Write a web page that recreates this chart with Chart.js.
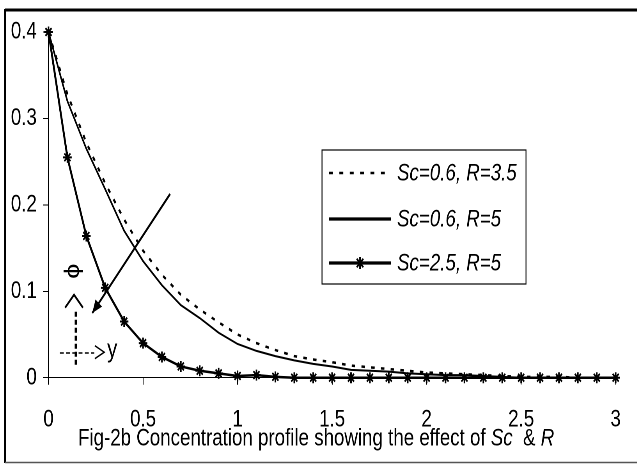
<!DOCTYPE html>
<html lang="en">
<head>
<meta charset="utf-8">
<title>Fig-2b Concentration profile</title>
<script src="https://cdn.jsdelivr.net/npm/chart.js@4.4.0/dist/chart.umd.min.js"></script>
<style>
html, body { margin: 0; padding: 0; background: #fff; overflow: hidden; }
/* the whole figure is squeezed sideways to get the narrow lettering */
#wrap { position: absolute; left: 0; top: 0; width: 817px; height: 464px; transform: scaleX(0.78); transform-origin: 0 0; }
</style>
</head>
<body>
<div id="wrap"><canvas id="chart"></canvas></div>
<script>
const SX = 0.78;
const W = 817;
const FONT = "'Liberation Sans', Arial, sans-serif";

// y (similarity variable) and concentration phi for the three cases
const etaValues = [0, 0.1, 0.2, 0.3, 0.4, 0.5, 0.6, 0.7, 0.8, 0.9, 1.0, 1.1, 1.2, 1.3, 1.4, 1.5,
  1.6, 1.7, 1.8, 1.9, 2.0, 2.1, 2.2, 2.3, 2.4, 2.5, 2.6, 2.7, 2.8, 2.9, 3.0];
const phiSc06R35 = [0.400, 0.328, 0.272, 0.225, 0.183, 0.147, 0.119, 0.096, 0.079, 0.064, 0.050,
  0.040, 0.032, 0.025, 0.021, 0.018, 0.014, 0.012, 0.010, 0.008, 0.006, 0.005, 0.004, 0.003,
  0.002, 0.001, 0.001, 0.001, 0.000, 0.000, 0.000];
const phiSc06R5 = [0.400, 0.320, 0.265, 0.218, 0.170, 0.135, 0.107, 0.084, 0.069, 0.052, 0.039,
  0.031, 0.025, 0.020, 0.016, 0.013, 0.009, 0.008, 0.007, 0.005, 0.004, 0.003, 0.003, 0.002,
  0.001, 0.000, 0.000, 0.000, 0.000, 0.000, 0.000];
const phiSc25R5 = [0.400, 0.255, 0.164, 0.104, 0.065, 0.040, 0.024, 0.013, 0.008, 0.005, 0.002,
  0.003, 0.001, 0.000, 0.000, 0.000, 0.000, 0.000, 0.000, 0.000, 0.000, 0.000, 0.000, 0.000,
  0.000, 0.000, 0.000, 0.000, 0.000, 0.000, 0.000];

const seriesLabels = ['Sc=0.6, R=3.5', 'Sc=0.6, R=5', 'Sc=2.5, R=5'];
const xTickLabels = ['0', '0.5', '1', '1.5', '2', '2.5', '3'];
const yTickLabels = ['0', '0.1', '0.2', '0.3', '0.4'];
// caption pieces, odd entries are set in italics
const captionParts = ['Fig-2b Concentration profile showing the effect of ', 'Sc', '  & ', 'R'];

function toPoints(ys) {
  return etaValues.map((x, i) => ({x: x, y: ys[i]}));
}

function drawStar(ctx, x, y, r) {
  const d = r * Math.SQRT1_2;
  ctx.beginPath();
  ctx.moveTo(x, y - r); ctx.lineTo(x, y + r);
  ctx.moveTo(x - r, y); ctx.lineTo(x + r, y);
  ctx.moveTo(x - d, y - d); ctx.lineTo(x + d, y + d);
  ctx.moveTo(x - d, y + d); ctx.lineTo(x + d, y - d);
  ctx.stroke();
}

function line(ctx, pts, width, dash) {
  ctx.lineWidth = width;
  ctx.setLineDash(dash || []);
  ctx.beginPath();
  ctx.moveTo(pts[0][0], pts[0][1]);
  for (let i = 1; i < pts.length; i++) ctx.lineTo(pts[i][0], pts[i][1]);
  ctx.stroke();
  ctx.setLineDash([]);
}

const figureDecor = {
  id: 'figureDecor',
  beforeDraw(chart) {
    const ctx = chart.ctx;
    ctx.save();
    ctx.fillStyle = '#fff';
    ctx.fillRect(0, 0, chart.width, chart.height);
    ctx.strokeStyle = '#000';
    const left = 5 / SX;
    line(ctx, [[left, 10], [chart.width, 10]], 3);
    line(ctx, [[left, 9], [left, 463]], 2.6);
    ctx.strokeStyle = '#555';
    line(ctx, [[left, 462.5], [chart.width, 462.5]], 1.5);
    ctx.restore();
  },
  afterDraw(chart) {
    const ctx = chart.ctx;
    const xs = chart.scales.x, ys = chart.scales.y;
    const P = (a, b) => [xs.getPixelForValue(a), ys.getPixelForValue(b)];
    ctx.save();
    ctx.strokeStyle = '#000';
    ctx.fillStyle = '#000';

    // legend box
    const lg = {l: 322 / SX, t: 150, r: 526 / SX, b: 284};
    ctx.lineWidth = 1.2;
    ctx.strokeRect(lg.l, lg.t, lg.r - lg.l, lg.b - lg.t);
    const rows = [173, 219, 263];
    const x0 = 329 / SX, x1 = 391 / SX, tx = 397 / SX;
    ctx.font = 'italic 24px ' + FONT;
    ctx.textBaseline = 'middle';
    chart.data.datasets.forEach((ds, i) => {
      const y = rows[i];
      line(ctx, [[x0, y], [x1, y]], i === 0 ? 2.5 : 3.2, i === 0 ? [5, 8.3] : []);
      if (ds.pointStyle === 'star') {
        ctx.lineWidth = 2;
        drawStar(ctx, (x0 + x1) / 2, y, 6);
      }
      ctx.fillText(ds.label, tx, y + 1);
    });

    // arrow across the curves
    const a0 = P(0.643, 0.2125), a1 = P(0.2315, 0.0748);
    line(ctx, [a0, a1], 2.3);
    const ang = Math.atan2(a1[1] - a0[1], a1[0] - a0[0]);
    const hl = 13, hw = 5.5;
    ctx.beginPath();
    ctx.moveTo(a1[0], a1[1]);
    ctx.lineTo(a1[0] - hl * Math.cos(ang) + hw * Math.sin(ang), a1[1] - hl * Math.sin(ang) - hw * Math.cos(ang));
    ctx.lineTo(a1[0] - hl * Math.cos(ang) - hw * Math.sin(ang), a1[1] - hl * Math.sin(ang) + hw * Math.cos(ang));
    ctx.closePath();
    ctx.fill();

    // phi / y axis sketch in the corner
    const ph = P(0.133, 0.1233);
    ctx.save();
    ctx.translate(ph[0], ph[1]);
    ctx.rotate(Math.PI / 2);
    ctx.font = '27px ' + FONT;
    ctx.textAlign = 'center';
    ctx.textBaseline = 'middle';
    ctx.fillText('\u03d5', 0, 0);
    ctx.restore();
    line(ctx, [P(0.088, 0.0810), P(0.135, 0.0960), P(0.182, 0.0810)], 2.2);
    line(ctx, [P(0.145, 0.0763), P(0.145, 0.0127)], 3.2, [5, 3]);
    line(ctx, [P(0.06, 0.0286), P(0.242, 0.0286)], 1.5, [5, 3]);
    line(ctx, [P(0.245, 0.037), P(0.295, 0.0295), P(0.245, 0.022)], 1.5);
    ctx.font = '26px ' + FONT;
    ctx.textBaseline = 'alphabetic';
    const yl = P(0.31, 0.024);
    ctx.fillText('y', yl[0], yl[1]);

    // caption under the axis
    let cx = 78 / SX;
    captionParts.forEach((s, i) => {
      ctx.font = (i % 2 ? 'italic ' : '') + '24px ' + FONT;
      ctx.fillText(s, cx, 445.5);
      cx += ctx.measureText(s).width;
    });
    ctx.restore();
  }
};

const data = {
  datasets: [{
    label: seriesLabels[0],
    data: toPoints(phiSc06R35),
    borderColor: '#000',
    borderWidth: 2.5,
    borderDash: [4.5, 8],
    pointRadius: 0
  }, {
    label: seriesLabels[1],
    data: toPoints(phiSc06R5),
    borderColor: '#000',
    borderWidth: 2,
    pointRadius: 0
  }, {
    label: seriesLabels[2],
    data: toPoints(phiSc25R5),
    borderColor: '#000',
    borderWidth: 2.5,
    pointStyle: 'star',
    pointRadius: 5.5,
    pointBorderWidth: 2,
    pointBorderColor: '#000'
  }]
};

const axisFont = {family: FONT, size: 24};

const config = {
  type: 'line',
  data: data,
  options: {
    responsive: true,
    maintainAspectRatio: false,
    devicePixelRatio: 2,
    animation: false,
    clip: false,
    layout: { padding: {left: 0, top: 32, right: W - 625 / SX, bottom: 0} },
    elements: { line: { tension: 0, fill: false } },
    plugins: { legend: { display: false }, tooltip: { enabled: false } },
    scales: {
      x: {
        type: 'linear',
        min: 0,
        max: 3,
        ticks: {
          stepSize: 0.5,
          maxRotation: 0,
          autoSkip: false,
          padding: 21,
          color: '#000',
          font: axisFont,
          callback: v => xTickLabels[Math.round(v / 0.5)]
        },
        grid: { drawOnChartArea: false, drawTicks: true, tickLength: 7, tickColor: '#000' },
        border: { display: true, color: '#000', width: 1 },
        afterFit: s => { s.height = 464 - 377.7; }
      },
      y: {
        type: 'linear',
        min: 0,
        max: 0.4,
        ticks: {
          stepSize: 0.1,
          padding: 8,
          color: '#000',
          font: axisFont,
          callback: v => yTickLabels[Math.round(v * 10)]
        },
        grid: { drawOnChartArea: false, drawTicks: true, tickLength: 7, tickColor: '#000' },
        border: { display: true, color: '#000', width: 1 },
        afterFit: s => { s.width = 48.5 / SX; }
      }
    }
  },
  plugins: [figureDecor]
};

const chart = new Chart(document.getElementById('chart'), config);
</script>
</body>
</html>
